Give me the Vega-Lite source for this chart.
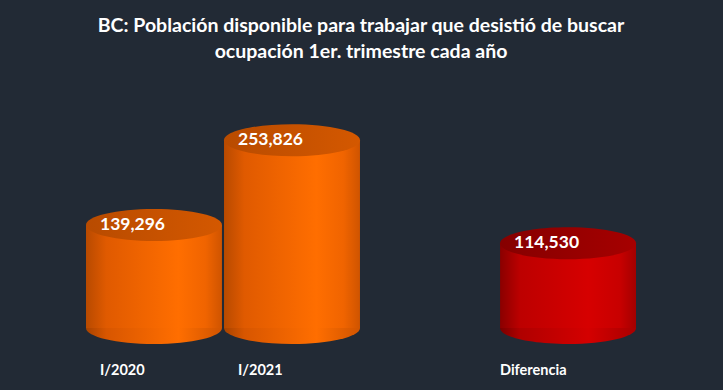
{
  "$schema": "https://vega.github.io/schema/vega-lite/v6.json",
  "width": 550,
  "height": 222,
  "autosize": {"type": "none"},
  "padding": {"left": 86, "top": 106, "right": 87, "bottom": 62},
  "background": "#222a35",
  "title": {
    "text": ["BC: Población disponible para trabajar que desistió de buscar", "ocupación 1er. trimestre cada año"],
    "font": "Lato",
    "fontSize": 19.5,
    "fontWeight": "bold",
    "color": "#ffffff",
    "lineHeight": 26,
    "anchor": "middle",
    "offset": 44
  },
  "config": {"view": {"stroke": null}},
  "data": {
    "values": [
      {"cat": "I/2020", "v": 139296},
      {"cat": "I/2021", "v": 253826},
      {"cat": "Diferencia", "v": 114530}
    ]
  },
  "encoding": {
    "x": {
      "field": "cat",
      "type": "nominal",
      "sort": null,
      "scale": {"type": "band", "domain": ["I/2020", "I/2021", " ", "Diferencia"], "paddingInner": 0.015, "paddingOuter": 0},
      "axis": {
        "title": null,
        "ticks": false,
        "domain": false,
        "labelAngle": 0,
        "labelAlign": "left",
        "labelBaseline": "top",
        "labelPadding": 35,
        "labelFont": "Lato",
        "labelFontSize": 14.5,
        "labelFontWeight": "bold",
        "labelColor": "#ffffff",
        "labelOffset": {"condition": {"test": "datum.value === 'Diferencia'", "value": -68}, "value": -54}
      }
    }
  },
  "layer": [
    {
      "mark": {
        "type": "point",
        "shape": "M -1 0 C -1 -0.13 -0.5523 -0.235 0 -0.235 C 0.5523 -0.235 1 -0.13 1 0 C 1 0.13 0.5523 0.235 0 0.235 C -0.5523 0.235 -1 0.13 -1 0 Z",
        "size": 18496,
        "filled": true,
        "opacity": 1,
        "strokeWidth": 0
      },
      "encoding": {
        "y": {"datum": 0, "type": "quantitative", "scale": {"domain": [0, 300000], "nice": false}, "axis": null},
        "fill": {
          "condition": {
            "test": "datum.cat === 'Diferencia'",
            "value": {"gradient": "linear", "x1": 0, "y1": 0, "x2": 1, "y2": 0, "stops": [
              {"offset": 0, "color": "#7a0000"}, {"offset": 0.15, "color": "#b00000"}, {"offset": 0.65, "color": "#d40000"}, {"offset": 1, "color": "#a80000"}]}
          },
          "value": {"gradient": "linear", "x1": 0, "y1": 0, "x2": 1, "y2": 0, "stops": [
            {"offset": 0, "color": "#a84300"}, {"offset": 0.15, "color": "#d85600"}, {"offset": 0.68, "color": "#ff6e00"}, {"offset": 1, "color": "#d05400"}]}
        }
      }
    },
    {
      "mark": {"type": "bar"},
      "encoding": {
        "y": {"field": "v", "type": "quantitative"},
        "fill": {
          "condition": {
            "test": "datum.cat === 'Diferencia'",
            "value": {"gradient": "linear", "x1": 0, "y1": 0, "x2": 1, "y2": 0, "stops": [
              {"offset": 0, "color": "#8a0000"}, {"offset": 0.15, "color": "#bd0000"}, {"offset": 0.65, "color": "#d60000"}, {"offset": 0.88, "color": "#c80000"}, {"offset": 1, "color": "#a30000"}]}
          },
          "value": {"gradient": "linear", "x1": 0, "y1": 0, "x2": 1, "y2": 0, "stops": [
            {"offset": 0, "color": "#b84a00"}, {"offset": 0.15, "color": "#e05a00"}, {"offset": 0.68, "color": "#ff6e00"}, {"offset": 0.88, "color": "#f06400"}, {"offset": 1, "color": "#cf5400"}]}
        }
      }
    },
    {
      "mark": {
        "type": "point",
        "shape": "M -1 0 C -1 -0.13 -0.5523 -0.235 0 -0.235 C 0.5523 -0.235 1 -0.13 1 0 C 1 0.13 0.5523 0.235 0 0.235 C -0.5523 0.235 -1 0.13 -1 0 Z",
        "size": 18496,
        "filled": true,
        "opacity": 1,
        "strokeWidth": 0
      },
      "encoding": {
        "y": {"field": "v", "type": "quantitative"},
        "fill": {
          "condition": {
            "test": "datum.cat === 'Diferencia'",
            "value": {"gradient": "linear", "x1": 0, "y1": 0, "x2": 1, "y2": 0, "stops": [
              {"offset": 0, "color": "#850000"}, {"offset": 1, "color": "#a60000"}]}
          },
          "value": {"gradient": "linear", "x1": 0, "y1": 0, "x2": 1, "y2": 0, "stops": [
            {"offset": 0, "color": "#b84b00"}, {"offset": 1, "color": "#d45800"}]}
        }
      }
    },
    {
      "mark": {"type": "text", "align": "left", "baseline": "middle", "dx": 14, "dy": 0, "font": "Lato", "fontSize": 17.5, "fontWeight": "bold", "color": "#ffffff"},
      "encoding": {
        "x": {"field": "cat", "type": "nominal", "bandPosition": 0},
        "y": {"field": "v", "type": "quantitative"},
        "text": {"field": "v", "type": "quantitative", "format": ","}
      }
    }
  ]
}
